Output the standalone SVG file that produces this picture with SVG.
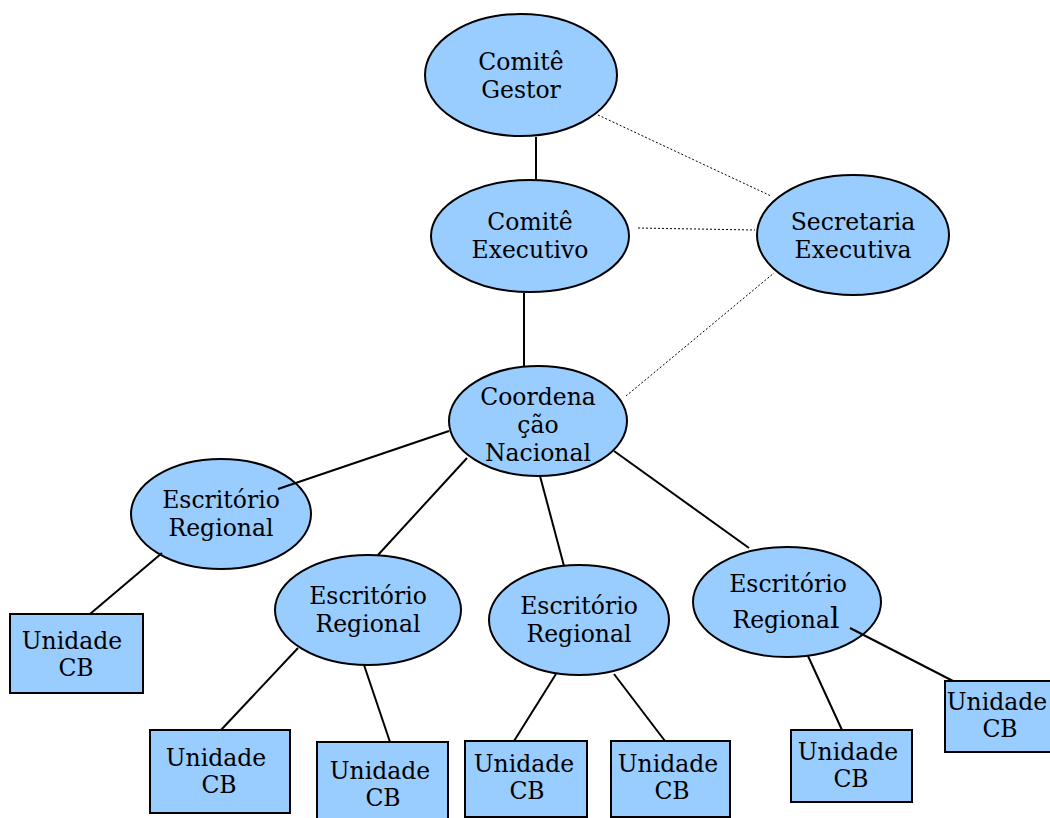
<svg xmlns="http://www.w3.org/2000/svg" width="1050" height="818" viewBox="0 0 1050 818">
<style>
.n{fill:#99ccff;stroke:#000;stroke-width:2}
.t{font-family:"DejaVu Serif",serif;font-size:23.5px;fill:#000;text-anchor:middle}
.s{stroke:#000;stroke-width:2;fill:none}
.d{stroke:#000;stroke-width:1;stroke-dasharray:2,2;fill:none}
</style>
<rect width="1050" height="818" fill="#fff"/>
<g id="comite-gestor"><ellipse class="n" cx="521" cy="75" rx="96" ry="61"/><text class="t" x="521" y="70">Comitê</text><text class="t" x="521" y="98">Gestor</text></g>
<g id="comite-executivo"><ellipse class="n" cx="530" cy="236" rx="99" ry="56"/><text class="t" x="530" y="230">Comitê</text><text class="t" x="530" y="258">Executivo</text></g>
<g id="secretaria-executiva"><ellipse class="n" cx="853" cy="235" rx="96" ry="60"/><text class="t" x="853" y="230">Secretaria</text><text class="t" x="853" y="258">Executiva</text></g>
<g id="coordenacao-nacional"><ellipse class="n" cx="538" cy="421" rx="89" ry="55"/><text class="t" x="538" y="405">Coordena</text><text class="t" x="538" y="433">ção</text><text class="t" x="538" y="461">Nacional</text></g>
<g id="er1"><ellipse class="n" cx="221" cy="514" rx="90" ry="55"/><text class="t" x="221" y="508">Escritório</text><text class="t" x="221" y="536">Regional</text></g>
<g id="er2"><ellipse class="n" cx="368" cy="610" rx="93" ry="55"/><text class="t" x="368" y="604">Escritório</text><text class="t" x="368" y="632">Regional</text></g>
<g id="er3"><ellipse class="n" cx="579" cy="620" rx="90" ry="55"/><text class="t" x="579" y="614">Escritório</text><text class="t" x="579" y="642">Regional</text></g>
<g id="er4"><ellipse class="n" cx="787" cy="602" rx="94" ry="55"/><text class="t" x="788" y="592">Escritório</text><text class="t" x="786" y="628">Regiona<tspan font-size="30">l</tspan></text></g>
<g id="u1"><rect class="n" x="10" y="614" width="133" height="79" stroke-width="1.5"/><text class="t" x="72" y="649">Unidade</text><text class="t" x="76" y="676">CB</text></g>
<g id="u2"><rect class="n" x="150" y="730" width="140" height="83" stroke-width="1.5"/><text class="t" x="216" y="766">Unidade</text><text class="t" x="219" y="793">CB</text></g>
<g id="u3"><rect class="n" x="317" y="742" width="131" height="80" stroke-width="1.5"/><text class="t" x="380" y="779">Unidade</text><text class="t" x="383" y="806">CB</text></g>
<g id="u4"><rect class="n" x="465" y="741" width="122" height="76" stroke-width="1.5"/><text class="t" x="524" y="772">Unidade</text><text class="t" x="527" y="799">CB</text></g>
<g id="u5"><rect class="n" x="611" y="741" width="119" height="76" stroke-width="1.5"/><text class="t" x="668" y="772">Unidade</text><text class="t" x="672" y="799">CB</text></g>
<g id="u6"><rect class="n" x="791" y="730" width="121" height="72" stroke-width="1.5"/><text class="t" x="848" y="760">Unidade</text><text class="t" x="851" y="787">CB</text></g>
<g id="u7"><rect class="n" x="945" y="681" width="110" height="71" stroke-width="1.5"/><text class="t" x="997" y="710">Unidade</text><text class="t" x="1000" y="737">CB</text></g>
<g id="connectors">
<line class="s" x1="536" y1="137" x2="536" y2="180"/>
<line class="s" x1="524" y1="293" x2="524" y2="367"/>
<line class="d" x1="598" y1="115" x2="771" y2="196"/>
<line class="d" x1="638" y1="228" x2="755" y2="230"/>
<line class="d" x1="626" y1="396" x2="774" y2="273"/>
<line class="s" x1="449" y1="431" x2="278" y2="489"/>
<line class="s" x1="467" y1="458" x2="378" y2="555"/>
<line class="s" x1="540" y1="476" x2="564" y2="566"/>
<line class="s" x1="614" y1="451" x2="749" y2="548"/>
<line class="s" x1="162" y1="553" x2="90" y2="614"/>
<line class="s" x1="298" y1="648" x2="221" y2="730"/>
<line class="s" x1="364" y1="665" x2="390" y2="742"/>
<line class="s" x1="556" y1="674" x2="514" y2="741"/>
<line class="s" x1="614" y1="674" x2="665" y2="741"/>
<line class="s" x1="808" y1="656" x2="842" y2="730"/>
<line class="s" x1="850" y1="628" x2="953" y2="681"/>
</g>
</svg>
